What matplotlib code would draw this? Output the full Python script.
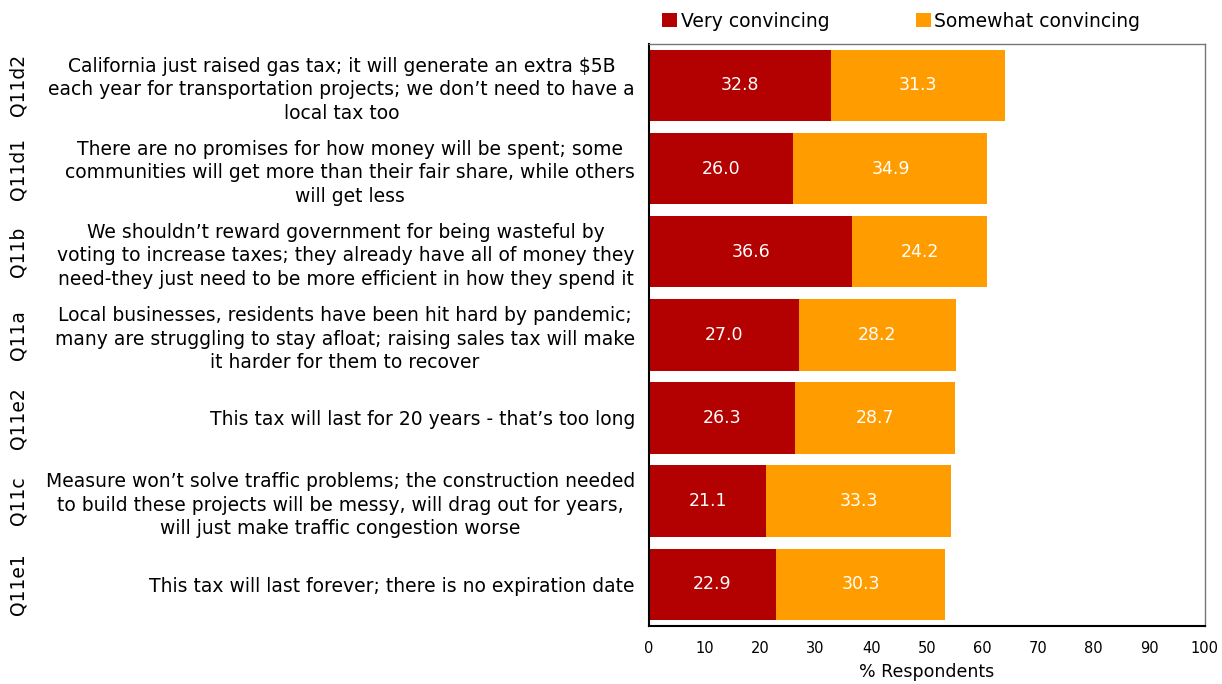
import matplotlib.pyplot as plt
import numpy as np

plt.rcParams['font.family'] = ['DejaVu Sans']

# questions, top to bottom
codes = ["Q11d2", "Q11d1", "Q11b", "Q11a", "Q11e2", "Q11c", "Q11e1"]
statements = [
    "California just raised gas tax; it will generate an extra $5B\neach year for transportation projects; we don\u2019t need to have a\nlocal tax too",
    "There are no promises for how money will be spent; some\ncommunities will get more than their fair share, while others\nwill get less",
    "We shouldn\u2019t reward government for being wasteful by\nvoting to increase taxes; they already have all of money they\nneed-they just need to be more efficient in how they spend it",
    "Local businesses, residents have been hit hard by pandemic;\nmany are struggling to stay afloat; raising sales tax will make\nit harder for them to recover",
    "This tax will last for 20 years - that\u2019s too long",
    "Measure won\u2019t solve traffic problems; the construction needed\nto build these projects will be messy, will drag out for years,\nwill just make traffic congestion worse",
    "This tax will last forever; there is no expiration date",
]
very = [32.8, 26.0, 36.6, 27.0, 26.3, 21.1, 22.9]
somewhat = [31.3, 34.9, 24.2, 28.2, 28.7, 33.3, 30.3]
x_ticks = [0, 10, 20, 30, 40, 50, 60, 70, 80, 90, 100]

red = "#b30000"
orange = "#ff9c00"

fig = plt.figure(figsize=(12.22, 6.84), dpi=100)
ax = fig.add_axes([0.531, 0.085, 0.455, 0.851])

y = np.arange(len(codes))
b1 = ax.barh(y, very, height=0.86, color=red, label="Very convincing")
b2 = ax.barh(y, somewhat, left=very, height=0.86, color=orange, label="Somewhat convincing")

# value labels inside each segment
for vals, lefts in [(very, [0] * len(very)), (somewhat, very)]:
    for i, v in enumerate(vals):
        ax.text(lefts[i] + v / 2, y[i], f"{v:.1f}", ha="center", va="center",
                color="white", fontsize=12.5)

ax.set_xlim(0, 100)
ax.set_ylim(len(codes) - 0.5, -0.5)
ax.set_xticks(x_ticks)
ax.tick_params(axis="x", length=0, pad=11, labelsize=10.5)
ax.set_yticks(y)
ax.set_yticklabels(statements, fontsize=13.5, ha="right", multialignment="center",
                   linespacing=1.3)
ax.tick_params(axis="y", length=0, pad=10)
ax.set_xlabel("% Respondents", fontsize=12.5, labelpad=5)

for side in ["top", "right"]:
    ax.spines[side].set_color("#777777")
    ax.spines[side].set_linewidth(1.0)
for side in ["left", "bottom"]:
    ax.spines[side].set_color("black")
    ax.spines[side].set_linewidth(1.5)

# question codes on the far left
for i, c in enumerate(codes):
    yy = ax.transData.transform((0, y[i]))[1]
    yf = fig.transFigure.inverted().transform((0, yy))[1]
    fig.text(0.015, yf, c, rotation=90, ha="center", va="center", fontsize=13.5)

ax.legend(loc="lower left", bbox_to_anchor=(0.0, 1.0), ncol=2, frameon=False,
          fontsize=13.5, handlelength=0.8, handleheight=0.8, handletextpad=0.2,
          columnspacing=4.6, borderaxespad=0.3)

fig.savefig("out.png", dpi=100)
